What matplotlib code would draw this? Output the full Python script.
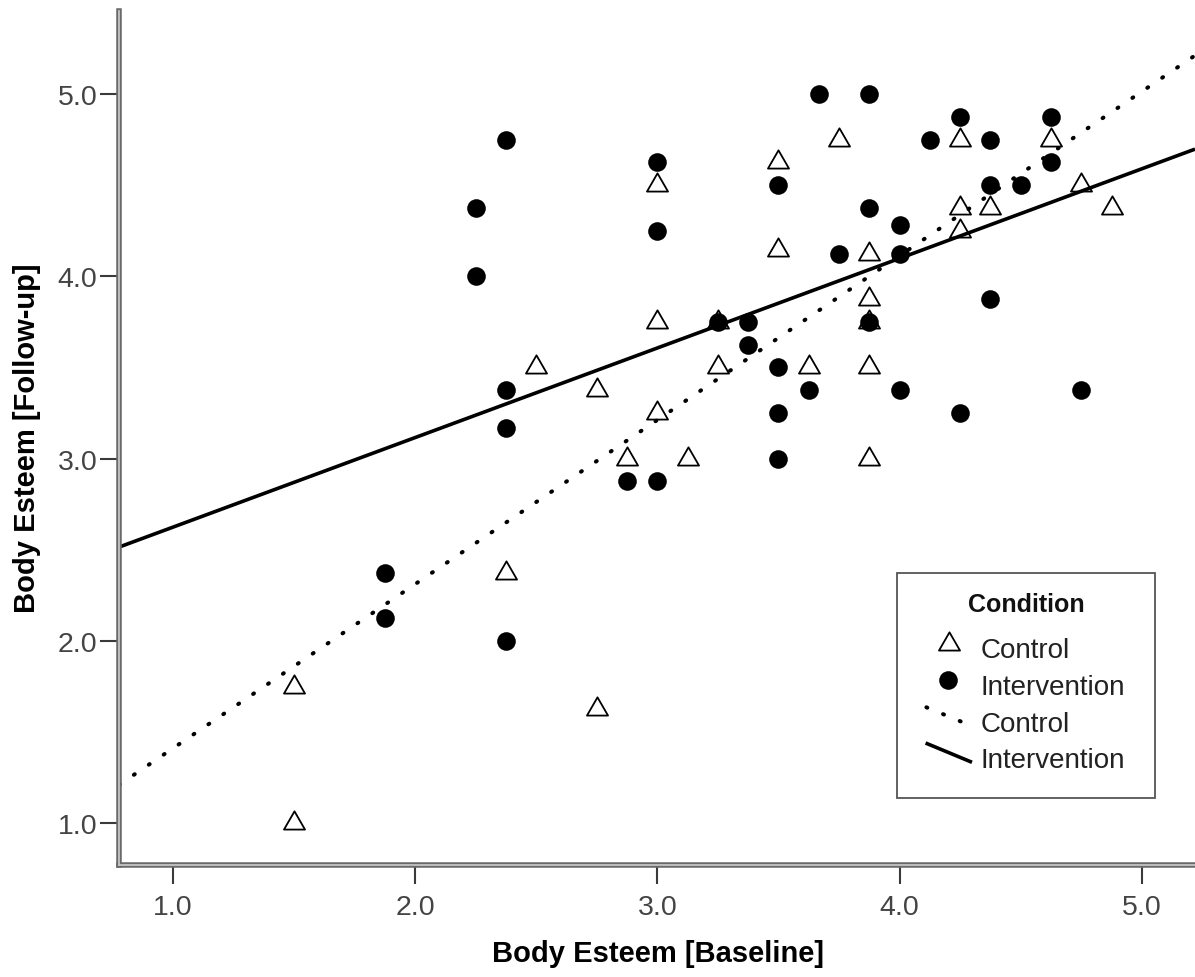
import matplotlib
matplotlib.use("Agg")
import matplotlib.pyplot as plt
from matplotlib.path import Path
from matplotlib.lines import Line2D
from matplotlib.patches import Rectangle
import numpy as np

# ---------------- data ----------------
control_baseline = [1.5, 1.5, 2.375, 2.5, 2.75, 2.75, 2.875, 3.0, 3.0, 3.0,
                    3.125, 3.25, 3.25, 3.5, 3.5, 3.625, 3.75, 3.875, 3.875, 3.875,
                    3.875, 3.875, 4.25, 4.25, 4.25, 4.375, 4.625, 4.75, 4.875]
control_followup = [1.75, 1.0, 2.375, 3.5, 3.375, 1.625, 3.0, 4.5, 3.75, 3.25,
                    3.0, 3.75, 3.5, 4.625, 4.143, 3.5, 4.75, 4.125, 3.875, 3.75,
                    3.5, 3.0, 4.75, 4.375, 4.25, 4.375, 4.75, 4.5, 4.375]

interv_baseline = [1.875, 1.875, 2.25, 2.25, 2.375, 2.375, 2.375, 2.375, 2.875, 3.0,
                   3.0, 3.0, 3.25, 3.375, 3.375, 3.5, 3.5, 3.5, 3.5, 3.625,
                   3.667, 3.75, 3.875, 3.875, 3.875, 4.0, 4.0, 4.0, 4.125, 4.25,
                   4.25, 4.375, 4.375, 4.375, 4.5, 4.625, 4.625, 4.75]
interv_followup = [2.375, 2.125, 4.375, 4.0, 4.75, 3.375, 3.167, 2.0, 2.875, 4.625,
                   4.25, 2.875, 3.75, 3.75, 3.625, 4.5, 3.5, 3.25, 3.0, 3.375,
                   5.0, 4.125, 5.0, 4.375, 3.75, 4.28, 4.125, 3.375, 4.75, 4.875,
                   3.25, 4.75, 4.5, 3.875, 4.5, 4.875, 4.625, 3.375]

# fit lines (intercept, slope) as drawn in the reference
fit_control = (0.509, 0.901)
fit_interv = (2.132, 0.4916)

x_ticks = [1.0, 2.0, 3.0, 4.0, 5.0]
y_ticks = [1.0, 2.0, 3.0, 4.0, 5.0]
x_ticklabels = ["1.0", "2.0", "3.0", "4.0", "5.0"]
y_ticklabels = ["1.0", "2.0", "3.0", "4.0", "5.0"]
x_limits = (0.7784, 5.219)
y_limits = (0.772, 5.457)

legend_title = "Condition"
legend_labels = ["Control", "Intervention", "Control", "Intervention"]
x_title = "Body Esteem [Baseline]"
y_title = "Body Esteem [Follow-up]"

# ---------------- figure ----------------
W, H = 1195, 978
plt.rcParams["font.family"] = ["Liberation Sans", "DejaVu Sans"]
fig = plt.figure(figsize=(W / 100, H / 100), dpi=100)

ax_left, ax_right, ax_top, ax_bottom = 119, 1195, 11.7, 865.8
ax = fig.add_axes([ax_left / W, 1 - ax_bottom / H,
                   (ax_right - ax_left) / W, (ax_bottom - ax_top) / H])
ax.set_xlim(*x_limits)
ax.set_ylim(*y_limits)

# triangle marker centred on its centroid
tri = Path([(-1.0, -0.577), (1.0, -0.577), (0.0, 1.155), (-1.0, -0.577)],
           [Path.MOVETO, Path.LINETO, Path.LINETO, Path.CLOSEPOLY])

TRI_MS = 17.5
CIRC_MS = 13.4
DOT_LW = 2.9
dot_style = (0, (0.25, 4.22))

# fit lines
xs = np.array(x_limits)
ax.plot(xs, fit_control[0] + fit_control[1] * xs, color="black", lw=DOT_LW,
        linestyle=dot_style, dash_capstyle="round", zorder=2)
ax.plot(xs, fit_interv[0] + fit_interv[1] * xs, color="black", lw=2.6,
        solid_capstyle="butt", zorder=2)

# points
ax.plot(interv_baseline, interv_followup, linestyle="none", marker="o",
        ms=CIRC_MS, mfc="black", mec="black", mew=0, zorder=3)
ax.plot(control_baseline, control_followup, linestyle="none", marker=tri,
        ms=TRI_MS, mfc="none", mec="black", mew=1.3, zorder=4)

# axes styling
for s in ("top", "right"):
    ax.spines[s].set_visible(False)
for s in ("left", "bottom"):
    ax.spines[s].set_linewidth(4.0)
    ax.spines[s].set_color("#6a6a6a")
ax.plot([0, 0], [0, 1], transform=ax.transAxes, color="#c4c4c4", lw=1.3,
        clip_on=False, zorder=5)
ax.plot([0, 1], [0, 0], transform=ax.transAxes, color="#c4c4c4", lw=1.3,
        clip_on=False, zorder=5)

ax.set_xticks(x_ticks)
ax.set_xticklabels(x_ticklabels)
ax.set_yticks(y_ticks)
ax.set_yticklabels(y_ticklabels)
ax.tick_params(axis="both", direction="out", length=14, width=1.5,
               color="#3a3a3a", labelsize=20.5, labelcolor="#444444")
ax.tick_params(axis="x", pad=6.8)
ax.tick_params(axis="y", pad=1.7)


def fp(x, y):
    return (x / W, 1 - y / H)


# axis titles
fig.text(*fp(657.5, 961.7), x_title, ha="center", va="baseline",
         fontsize=21, fontweight="bold", color="black")
fig.text(*fp(27, 438), y_title, ha="center", va="center", rotation=90,
         fontsize=21, fontweight="bold", color="black")

# legend (drawn manually to mimic SPSS style)
bx0, by0, bx1, by1 = 897, 574, 1155, 799
fig.add_artist(Rectangle(fp(bx0, by1), (bx1 - bx0) / W, (by1 - by0) / H,
                         transform=fig.transFigure, facecolor="white",
                         edgecolor="#555555", lw=1.3, zorder=10))
fig.text(*fp(1026.6, 611.7), legend_title, ha="center", va="baseline",
         fontsize=18, fontweight="bold", color="#111111", zorder=11)

text_x = 980.7
baselines = [658.3, 695.0, 731.7, 768.3]
for lab, bl in zip(legend_labels, baselines):
    fig.text(*fp(text_x, bl), lab, ha="left", va="baseline", fontsize=20,
             color="#222222", zorder=11)

fig.add_artist(Line2D([949.1 / W], [1 - 645.3 / H], transform=fig.transFigure,
                      linestyle="none", marker=tri, ms=TRI_MS, mfc="none",
                      mec="black", mew=1.3, zorder=11))
fig.add_artist(Line2D([948.4 / W], [1 - 681.3 / H], transform=fig.transFigure,
                      linestyle="none", marker="o", ms=CIRC_MS, mfc="black",
                      mec="black", mew=0, zorder=11))
fig.add_artist(Line2D([926.4 / W, 962.8 / W], [1 - 708.3 / H, 1 - 723.3 / H],
                      transform=fig.transFigure, color="black", lw=DOT_LW,
                      linestyle=dot_style, dash_capstyle="round", zorder=11))
fig.add_artist(Line2D([925.6 / W, 972 / W], [1 - 744 / H, 1 - 763.3 / H],
                      transform=fig.transFigure, color="black", lw=2.6,
                      solid_capstyle="butt", zorder=11))

fig.savefig("out.png", dpi=100, facecolor="white")
